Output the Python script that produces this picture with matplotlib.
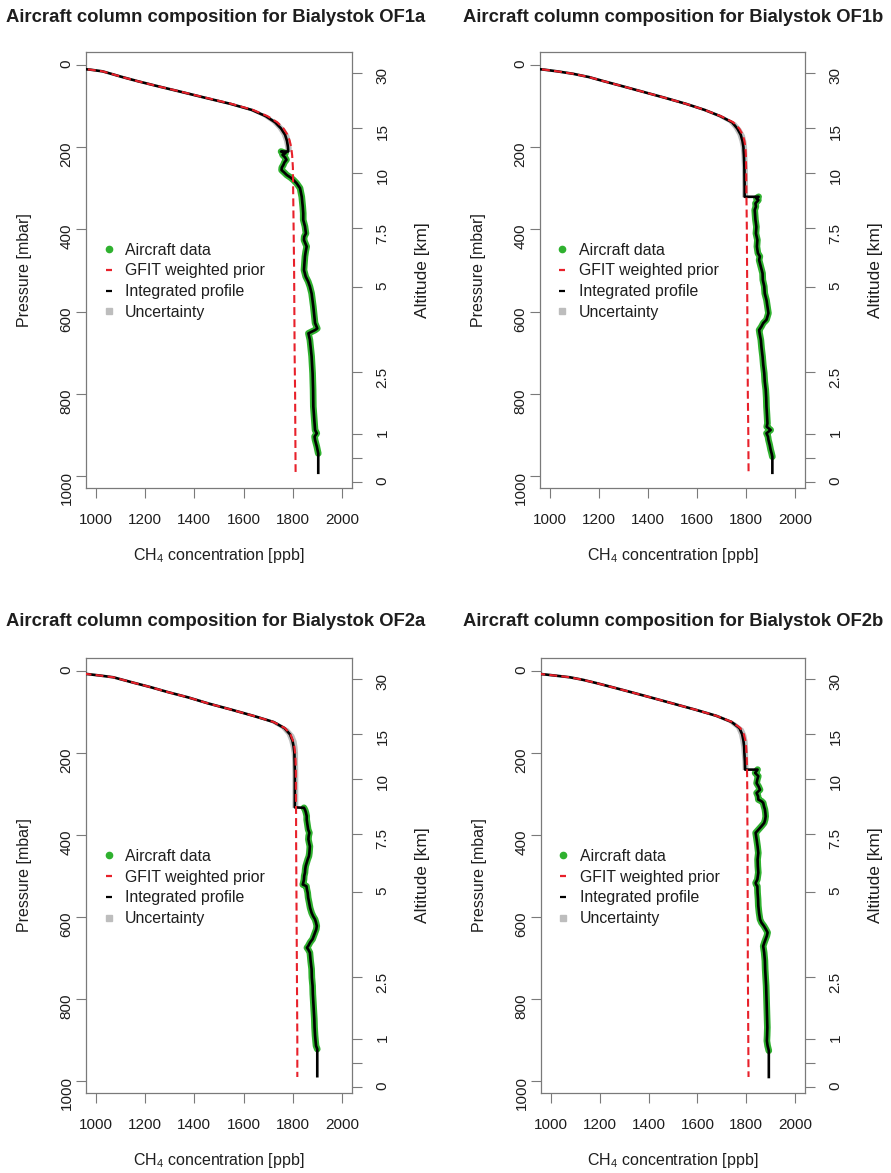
import matplotlib
matplotlib.use("Agg")
import matplotlib.pyplot as plt
from matplotlib.lines import Line2D

plt.rcParams['font.family'] = ['Liberation Sans', 'DejaVu Sans']
plt.rcParams['mathtext.default'] = 'regular'

# ---------------------------------------------------------------- data
# pressure grid (mbar) of the a-priori profile
P_GRID = [7, 9, 12, 16, 22, 30, 40, 52, 65, 80, 95, 110, 125, 140, 155, 170,
          185, 200, 220, 250, 300, 350, 400, 500, 600, 700, 800, 900, 990]

# GFIT weighted prior CH4 (ppb) on P_GRID
PRIOR_OF1A = [870, 925, 978, 1027, 1062, 1108, 1170, 1250, 1342, 1445, 1550, 1639, 1697, 1737, 1762,
              1778, 1787, 1793, 1797, 1800, 1801, 1802, 1803, 1805, 1806, 1807, 1809, 1810, 1811]
PRIOR_OF1B = [870, 925, 978, 1030, 1095, 1160, 1220, 1295, 1375, 1467, 1555, 1632, 1697, 1748, 1772,
              1786, 1793, 1797, 1799, 1800, 1801, 1802, 1803, 1804, 1805, 1806, 1807, 1809, 1810]
PRIOR_OF2A = [950, 978, 1020, 1071, 1108, 1158, 1222, 1292, 1375, 1458, 1551, 1640, 1722, 1768, 1790,
              1800, 1806, 1809, 1811, 1812, 1812, 1813, 1813, 1814, 1815, 1816, 1817, 1818, 1818]
PRIOR_OF2B = [945, 975, 1020, 1078, 1130, 1186, 1251, 1327, 1408, 1500, 1592, 1678, 1742, 1776, 1790,
              1796, 1799, 1801, 1802, 1803, 1804, 1804, 1805, 1805, 1806, 1806, 1807, 1808, 1809]

# integrated profile above the aircraft ceiling (first points of P_GRID, last one at the ceiling)
STRAT_OF1A = [870, 925, 978, 1027, 1062, 1108, 1170, 1250, 1340, 1442, 1546, 1634, 1690, 1728, 1752,
              1768, 1776, 1780, 1781]
STRAT_OF1B = [870, 925, 978, 1030, 1095, 1160, 1220, 1295, 1375, 1467, 1555, 1632, 1695, 1743, 1764,
              1778, 1785, 1789, 1791, 1793, 1794, 1794]
STRAT_OF2A = [950, 978, 1020, 1071, 1108, 1158, 1222, 1292, 1375, 1458, 1551, 1640, 1722, 1766, 1788,
              1798, 1803, 1806, 1807, 1808, 1808, 1808]
STRAT_OF2B = [945, 975, 1020, 1078, 1130, 1186, 1251, 1327, 1408, 1500, 1592, 1678, 1740, 1772, 1783,
              1788, 1791, 1792, 1794, 1795]
CEILING = [211, 321, 333, 241]          # aircraft ceiling pressure (mbar)
SURFACE = [992, 992, 988, 990]          # surface pressure (mbar)

# uncertainty half width (ppb) of the integrated profile on P_GRID
UNCERT = [3, 4, 5, 6, 6, 7, 8, 9, 10, 11, 12, 13, 14, 15, 15, 15, 14, 13, 12, 12, 12, 12,
          12, 12, 12, 12, 12, 12, 12]

# aircraft in-situ data: pressure (mbar) and CH4 (ppb)
AC_P_OF1A = [211, 215, 219, 225, 231, 237, 244, 250, 256, 262, 268, 274, 280, 288, 300, 321,
             345, 361, 377, 393, 410, 418, 426, 442, 454, 466, 482, 499, 515, 527, 539, 556,
             588, 628, 641, 645, 653, 669, 709, 750, 790, 831, 888, 896, 904, 912, 928, 945]
AC_C_OF1A = [1752, 1770, 1758, 1768, 1774, 1766, 1761, 1755, 1754, 1765, 1775, 1790, 1802, 1815,
             1829, 1836, 1840, 1842, 1842, 1849, 1853, 1846, 1845, 1856, 1852, 1849, 1847, 1845,
             1852, 1862, 1869, 1876, 1883, 1890, 1899, 1890, 1863, 1869, 1876, 1880, 1882, 1883,
             1890, 1897, 1888, 1890, 1897, 1903]
AC_P_OF1B = [321, 325, 329, 337, 345, 353, 361, 377, 394, 410, 426, 442, 458, 466, 475, 491,
             507, 523, 539, 556, 572, 588, 604, 620, 628, 637, 645, 653, 669, 689, 709, 730,
             750, 770, 790, 810, 831, 851, 872, 880, 888, 896, 904, 912, 924, 936, 945, 953]
AC_C_OF1B = [1851, 1842, 1850, 1838, 1840, 1835, 1836, 1838, 1842, 1840, 1846, 1844, 1848, 1856,
             1853, 1860, 1867, 1868, 1874, 1876, 1883, 1887, 1891, 1883, 1870, 1862, 1853, 1855,
             1860, 1863, 1867, 1870, 1874, 1876, 1880, 1882, 1883, 1885, 1887, 1884, 1900, 1883,
             1889, 1891, 1896, 1900, 1904, 1907]
AC_P_OF2A = [334, 340, 346, 354, 363, 371, 379, 387, 395, 403, 411, 420, 428, 436, 444, 452,
             460, 468, 476, 484, 492, 500, 509, 517, 521, 525, 533, 541, 553, 565, 578, 590,
             598, 606, 614, 622, 630, 638, 646, 654, 662, 671, 675, 679, 687, 707, 727, 748,
             768, 788, 808, 829, 849, 869, 889, 902, 914, 922]
AC_C_OF2A = [1845, 1850, 1853, 1856, 1856, 1858, 1860, 1862, 1867, 1864, 1863, 1866, 1869, 1868,
             1867, 1865, 1860, 1856, 1852, 1850, 1849, 1846, 1845, 1842, 1840, 1855, 1857, 1860,
             1862, 1866, 1870, 1876, 1882, 1890, 1894, 1897, 1895, 1890, 1885, 1880, 1870, 1862,
             1857, 1862, 1869, 1872, 1876, 1877, 1880, 1881, 1883, 1885, 1887, 1888, 1890, 1892,
             1894, 1899]
AC_P_OF2B = [241, 249, 257, 265, 274, 282, 290, 298, 306, 314, 318, 322, 330, 338, 347, 355,
             363, 371, 379, 387, 395, 403, 411, 428, 444, 460, 476, 492, 509, 517, 521, 525,
             541, 557, 573, 590, 606, 614, 622, 630, 638, 646, 654, 662, 671, 687, 707, 727,
             748, 768, 788, 808, 829, 849, 869, 889, 902, 914, 926]
AC_C_OF2B = [1846, 1836, 1849, 1845, 1842, 1850, 1856, 1842, 1848, 1849, 1862, 1869, 1872, 1876,
             1878, 1879, 1877, 1873, 1862, 1850, 1838, 1840, 1842, 1846, 1849, 1846, 1847, 1849,
             1845, 1838, 1840, 1845, 1846, 1848, 1849, 1852, 1856, 1862, 1872, 1880, 1887, 1884,
             1879, 1874, 1869, 1873, 1876, 1877, 1879, 1881, 1882, 1883, 1884, 1885, 1886, 1885,
             1884, 1887, 1892]

TITLES = ["Aircraft column composition for Bialystok OF1a",
          "Aircraft column composition for Bialystok OF1b",
          "Aircraft column composition for Bialystok OF2a",
          "Aircraft column composition for Bialystok OF2b"]

X_TICKS = [1000, 1200, 1400, 1600, 1800, 2000]
P_TICKS = [0, 200, 400, 600, 800, 1000]
ALT_TICK_P = [20, 154, 263, 397, 540, 747, 898, 956, 1014]
ALT_TICK_LABELS = ["30", "15", "10", "7.5", "5", "2.5", "1", "", "0"]
LEGEND_LABELS = ["Aircraft data", "GFIT weighted prior", "Integrated profile", "Uncertainty"]

# ---------------------------------------------------------------- style
GREEN = "#2fb12f"
RED = "#e8202a"
GREY = "#bdbdbd"
AXC = "#7a7a7a"
TXT = "#1e1e1e"

W, H = 891.0, 1173.0
# panel boxes in pixels: left, right, top, bottom
BOXES = [(86, 352, 52, 488), (540, 805, 52, 488),
         (86, 352, 658, 1093), (541, 805, 658, 1093)]
TITLE_POS = [(216, 17), (673, 17), (216, 621), (673, 621)]
LEGEND_TOP = [0.5624, 0.5624, 0.561, 0.561]

panels = [
    (PRIOR_OF1A, STRAT_OF1A, AC_P_OF1A, AC_C_OF1A),
    (PRIOR_OF1B, STRAT_OF1B, AC_P_OF1B, AC_C_OF1B),
    (PRIOR_OF2A, STRAT_OF2A, AC_P_OF2A, AC_C_OF2A),
    (PRIOR_OF2B, STRAT_OF2B, AC_P_OF2B, AC_C_OF2B),
]

fig = plt.figure(figsize=(8.91, 11.73), dpi=100)

for i, (prior, strat, ac_p, ac_c) in enumerate(panels):
    x0, x1, yt, yb = BOXES[i]
    ax = fig.add_axes([x0 / W, 1 - yb / H, (x1 - x0) / W, (yb - yt) / H])

    n = len(strat)
    strat_p = list(P_GRID[:n - 1]) + [CEILING[i]]
    unc = UNCERT[:n]
    lo = [c - u for c, u in zip(strat, unc)]
    hi = [c + u for c, u in zip(strat, unc)]

    # integrated profile: stratosphere, aircraft section, extension to the surface
    int_p = strat_p + ac_p + [SURFACE[i]]
    int_c = strat + ac_c + [ac_c[-1]]

    ax.fill_betweenx(strat_p, lo, hi, color=GREY, lw=0, zorder=1)
    ax.plot(ac_c, ac_p, color=GREEN, lw=4.8, solid_joinstyle='round',
            solid_capstyle='round', zorder=2)
    ax.plot(int_c, int_p, color='black', lw=1.9, zorder=3)
    ax.plot(prior, P_GRID, color=RED, lw=1.5, linestyle=(0, (3.8, 2.0)), zorder=4)

    ax.set_xlim(960, 2040)
    ax.set_ylim(1029, -31)
    ax.set_xticks(X_TICKS)
    ax.set_yticks(P_TICKS)
    ax.tick_params(axis='both', direction='out', length=7, width=0.8, color=AXC,
                   labelcolor=TXT, labelsize=11)
    ax.tick_params(axis='x', pad=11)
    ax.tick_params(axis='y', labelrotation=90, pad=2)
    for s in ax.spines.values():
        s.set_color(AXC)
        s.set_linewidth(0.9)

    ax.set_xlabel("CH$_4$ concentration [ppb]", fontsize=11.5, color=TXT, labelpad=14)
    ax.set_ylabel("Pressure [mbar]", fontsize=11.5, color=TXT, labelpad=20)

    ax2 = ax.twinx()
    ax2.set_ylim(1029, -31)
    ax2.set_yticks(ALT_TICK_P)
    ax2.set_yticklabels(ALT_TICK_LABELS)
    ax2.tick_params(axis='y', direction='out', length=7, width=0.8, color=AXC,
                    labelcolor=TXT, labelsize=11, labelrotation=90, pad=10)
    for s in ax2.spines.values():
        s.set_visible(False)
    ax2.set_ylabel("Altitude [km]", fontsize=12.5, color=TXT, labelpad=18)

    handles = [
        Line2D([], [], ls='none', marker='o', ms=4.5, color=GREEN),
        Line2D([], [], ls='none', marker='_', ms=5, mew=1.6, color=RED),
        Line2D([], [], ls='none', marker='_', ms=5, mew=1.6, color='black'),
        Line2D([], [], ls='none', marker='s', ms=5, color=GREY),
    ]
    ax.legend(handles, LEGEND_LABELS, loc='upper left', bbox_to_anchor=(0.055, LEGEND_TOP[i]),
              frameon=False, fontsize=11.4, handlelength=1.0, handletextpad=0.55,
              labelspacing=0.36, borderpad=0, borderaxespad=0, labelcolor=TXT)

    tx, ty = TITLE_POS[i]
    fig.text(tx / W, 1 - ty / H, TITLES[i], ha='center', va='center',
             fontsize=13.3, fontweight='bold', color=TXT)

fig.savefig("out.png", dpi=100)
